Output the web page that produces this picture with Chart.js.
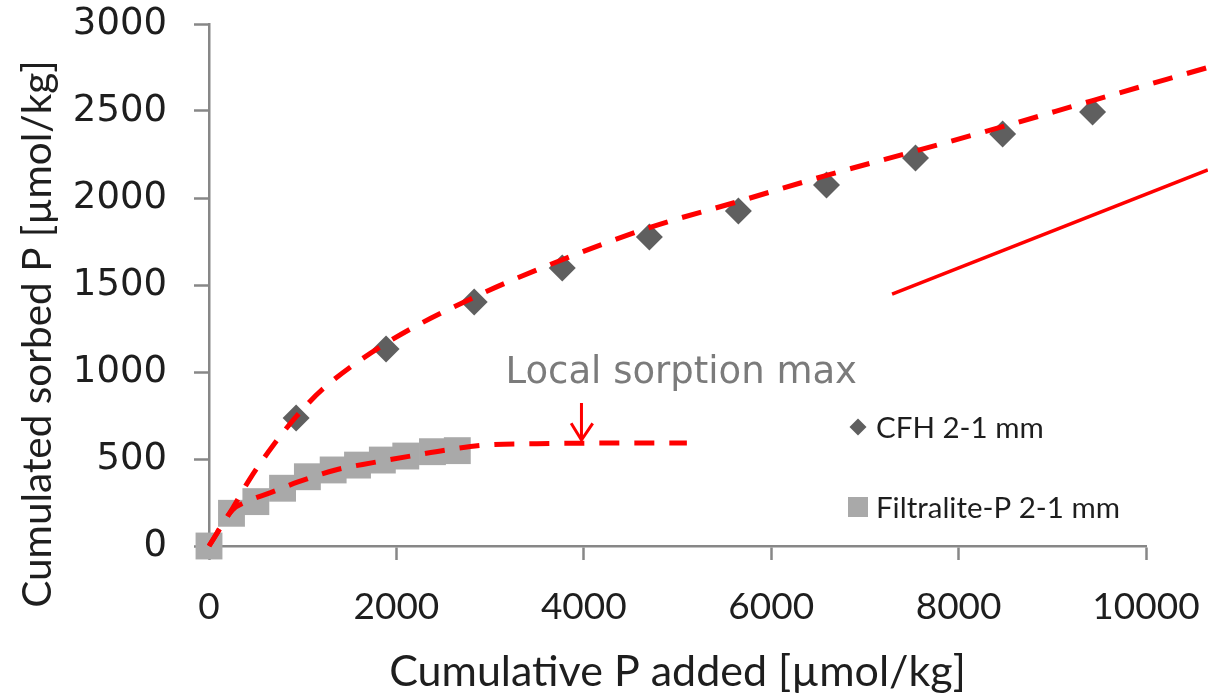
<!DOCTYPE html>
<html>
<head>
<meta charset="utf-8">
<script src="https://cdn.jsdelivr.net/npm/chart.js@4.4.1/dist/chart.umd.min.js"></script>
<style>
  html, body { margin: 0; padding: 0; background: #fff; }
  #wrap { width: 1208px; height: 698px; position: relative; }
</style>
</head>
<body>
<div id="wrap"><canvas id="chart"></canvas></div>
<script>
'use strict';

// ─── Data ────────────────────────────────────────────────────────
const xTickValues = [0, 2000, 4000, 6000, 8000, 10000];
const yTickValues = [0, 500, 1000, 1500, 2000, 2500, 3000];

// measured points
const cfhAdded  = [930, 1890, 2830, 3770, 4700, 5650, 6590, 7540, 8470, 9430];
const cfhSorbed = [736, 1132, 1402, 1598, 1776, 1925, 2075, 2230, 2368, 2494];

const filAdded  = [0, 240, 500, 785, 1050, 1325, 1585, 1850, 2100, 2385, 2650];
const filSorbed = [0, 188, 255, 332, 398, 437, 465, 494, 517, 542, 548];

// fitted curves (dashed)
const cfhFitX = [0, 250, 430, 680, 930, 1210, 1890, 2830, 3770, 4700, 5650, 6590, 7540, 8470, 9430, 10660];
const cfhFitY = [0, 215, 380, 575, 743, 900, 1165, 1430, 1645, 1830, 1980, 2130, 2270, 2410, 2560, 2750];

const filFitX = [0, 250, 400, 650, 950, 1350, 1750, 2150, 2550, 2950, 3500, 4000, 4500, 5100];
const filFitY = [0, 207, 255, 305, 368, 437, 479, 517, 553, 580, 588, 591, 592, 592];

// straight slope line
const slopeX = [7290, 10660];
const slopeY = [1448, 2161];

// arrow pointing at the local max
const arrowShaftX = [3975, 3975];
const arrowShaftY = [822, 609];
const arrowHeadX = [3865, 3975, 4095];
const arrowHeadY = [705, 609, 705];

const noteText = 'Local sorption max';
const noteAt = [5040, 938];

const seriesNames = ['CFH 2-1 mm', 'Filtralite-P 2-1 mm'];

const xy = (xs, ys) => xs.map((v, i) => ({ x: v, y: ys[i] }));

// ─── Colours / fonts ─────────────────────────────────────────────
const RED = '#ff0000';
const CFH_GREY = '#5f5f5f';
const FIL_GREY = '#a9a9a9';
const AXIS = '#878787';
const TEXT = '#1e1e1e';
const CAL = 'Lato, "Open Sans", sans-serif';

// ─── Overlay: note, y title, legend ──────────────────────────────
const overlay = {
  id: 'overlay',
  afterDraw(chart) {
    const { ctx, scales: { x, y }, chartArea } = chart;
    ctx.save();

    // annotation text
    ctx.font = '37px "DejaVu Sans"';
    ctx.fillStyle = '#7b7b7b';
    ctx.textAlign = 'center';
    ctx.textBaseline = 'alphabetic';
    ctx.fillText(noteText, x.getPixelForValue(noteAt[0]), y.getPixelForValue(noteAt[1]));

    // y axis title
    ctx.save();
    ctx.translate(38, 334);
    ctx.rotate(-Math.PI / 2);
    ctx.font = '40.5px ' + CAL;
    ctx.fillStyle = TEXT;
    ctx.textAlign = 'center';
    ctx.textBaseline = 'middle';
    ctx.fillText('Cumulated sorbed P [µmol/kg]', 0, 0);
    ctx.restore();

    // legend
    const lx = chartArea.left + 649;
    const rows = [chartArea.top + 403, chartArea.top + 483];
    ctx.font = '29.5px ' + CAL;
    ctx.textAlign = 'left';
    ctx.textBaseline = 'middle';
    ctx.fillStyle = CFH_GREY;
    ctx.beginPath();
    ctx.moveTo(lx - 8.5, rows[0]);
    ctx.lineTo(lx, rows[0] - 8.5);
    ctx.lineTo(lx + 8.5, rows[0]);
    ctx.lineTo(lx, rows[0] + 8.5);
    ctx.closePath();
    ctx.fill();
    ctx.fillStyle = FIL_GREY;
    ctx.fillRect(lx - 10, rows[1] - 10, 20, 20);

    ctx.fillStyle = TEXT;
    ctx.fillText(seriesNames[0], lx + 18, rows[0] + 1);
    ctx.fillText(seriesNames[1], lx + 18, rows[1] + 1);
    ctx.restore();
  }
};

// ─── Chart ───────────────────────────────────────────────────────
const dashed = (data) => ({
  data,
  showLine: true,
  borderColor: RED,
  borderWidth: 5,
  borderDash: [20, 15],
  borderCapStyle: 'butt',
  pointRadius: 0,
  cubicInterpolationMode: 'monotone',
  clip: false,
  order: 0,
});

const plain = (data, w) => ({
  data,
  showLine: true,
  borderColor: RED,
  borderWidth: w,
  pointRadius: 0,
  tension: 0,
  clip: false,
  order: 0,
});

new Chart(document.getElementById('chart'), {
  type: 'scatter',
  data: {
    datasets: [
      dashed(xy(cfhFitX, cfhFitY)),
      dashed(xy(filFitX, filFitY)),
      plain(xy(slopeX, slopeY), 3.5),
      plain(xy(arrowShaftX, arrowShaftY), 3),
      plain(xy(arrowHeadX, arrowHeadY), 3),
      {
        label: seriesNames[0],
        data: xy(cfhAdded, cfhSorbed),
        pointStyle: 'rectRot',
        pointRadius: 13.5,
        backgroundColor: CFH_GREY,
        borderWidth: 0,
        clip: false,
        order: 1,
      },
      {
        label: seriesNames[1],
        data: xy(filAdded, filSorbed),
        pointStyle: 'rect',
        pointRadius: 19,
        backgroundColor: FIL_GREY,
        borderWidth: 0,
        clip: false,
        order: 1,
      },
    ],
  },
  options: {
    responsive: true,
    maintainAspectRatio: false,
    animation: false,
    layout: { padding: { top: 24, right: 62, left: 0, bottom: 0 } },
    plugins: { legend: { display: false }, tooltip: { enabled: false } },
    scales: {
      x: {
        type: 'linear',
        min: 0,
        max: 10000,
        afterBuildTicks: s => { s.ticks = xTickValues.map(v => ({ value: v })); },
        // fixed box; drop the label-overflow padding so the layout padding rules
        afterFit: s => { s.height = 152; s.paddingLeft = 0; s.paddingRight = 0; },
        border: { color: AXIS, width: 2.5 },
        grid: { drawOnChartArea: false, drawTicks: true, tickLength: 14, tickColor: AXIS, tickWidth: 2.5 },
        ticks: { color: TEXT, font: { family: CAL, size: 37 }, padding: 25, maxRotation: 0, callback: v => String(v) },
        title: {
          display: true,
          text: 'Cumulative P added [µmol/kg]',
          color: TEXT,
          font: { family: CAL, size: 43 },
          padding: { top: 0, bottom: 0 },
        },
      },
      y: {
        type: 'linear',
        min: 0,
        max: 3000,
        afterBuildTicks: s => { s.ticks = yTickValues.map(v => ({ value: v })); },
        afterFit: s => { s.width = 209; s.paddingTop = 0; s.paddingBottom = 0; },
        border: { color: AXIS, width: 2.5 },
        grid: { drawOnChartArea: false, drawTicks: true, tickLength: 15, tickColor: AXIS, tickWidth: 2.5 },
        ticks: { color: TEXT, font: { family: 'DejaVu Sans', size: 37 }, padding: 27, callback: v => String(v) },
      },
    },
  },
  plugins: [overlay],
});
</script>
</body>
</html>
